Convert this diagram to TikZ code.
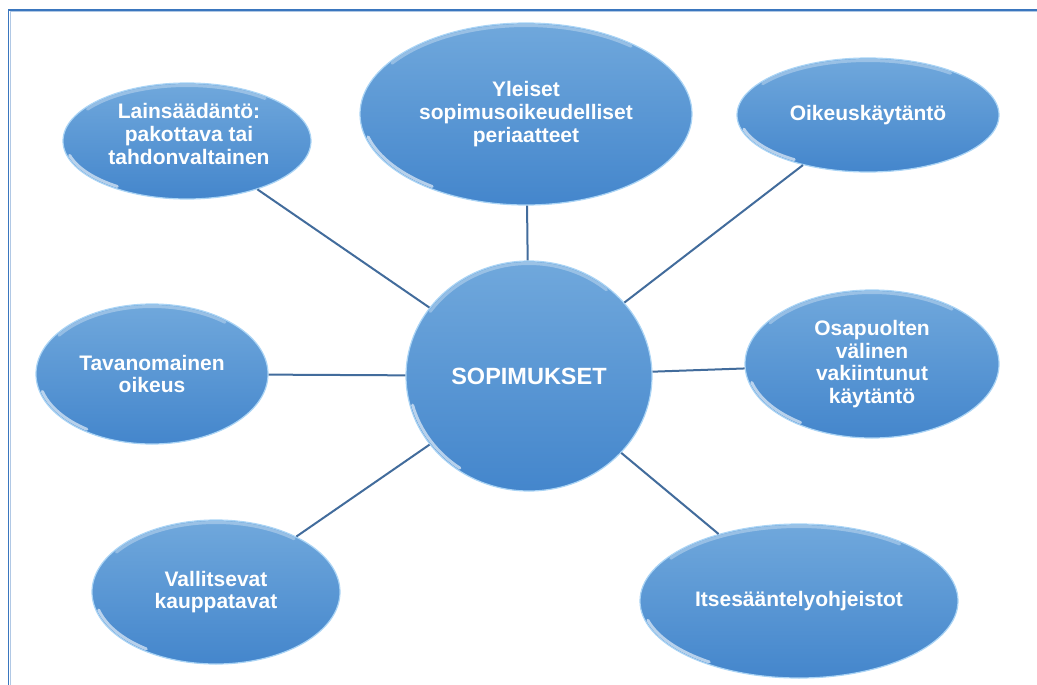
\documentclass[tikz,border=0pt]{standalone}
\usepackage{fontspec}
\setmainfont{Liberation Sans}
\usetikzlibrary{shapes.geometric}
\definecolor{bubtop}{RGB}{112,168,220}
\definecolor{bubbot}{RGB}{68,134,204}
\definecolor{bubrim}{RGB}{170,212,245}
\definecolor{linkc}{RGB}{66,108,156}
\definecolor{framec}{RGB}{58,118,190}
\tikzset{
  bubtext/.style={text=white, align=center, font=\bfseries\fontsize{21}{22.8}\selectfont},
  bubble/.style 2 args={ellipse, inner sep=0pt, top color=bubtop, bottom color=bubbot,
    draw=bubrim, line width=1.2pt, bubtext,
    minimum width=2*#1, minimum height=2*#2,
    path picture={
      \draw[white, opacity=0.6, line width=3pt, line cap=round]
        ([shift={(195:#1-2.5pt and #2-2.5pt)}]path picture bounding box.center)
        arc[start angle=195, end angle=235, x radius=#1-2.5pt, y radius=#2-2.5pt];
      \draw[white, opacity=0.3, line width=3pt, line cap=round]
        ([shift={(50:#1-2.5pt and #2-2.5pt)}]path picture bounding box.center)
        arc[start angle=50, end angle=145, x radius=#1-2.5pt, y radius=#2-2.5pt];
    }},
  link/.style={draw=linkc, line width=2pt}
}
\begin{document}
\begin{tikzpicture}[x=1pt,y=-1pt]
\useasboundingbox (0,0) rectangle (1037,685);
\fill[white] (0,0) rectangle (1037,685);
\draw[framec, line width=1.6pt] (8.5,690) -- (8.5,9.8) -- (1042,9.8);
\draw[framec!40, line width=0.8pt] (10.4,690) -- (10.4,11.6) -- (1042,11.6);

\node[bubble={123pt}{115pt}, font=\bfseries\fontsize{23.5}{26}\selectfont] (c) at (529,376) {SOPIMUKSET};
\node[bubble={124pt}{58pt}] (lain) at (187,141) {};
\node[bubtext] (lainT) at (189,134) {Lainsäädäntö:\\pakottava tai\\tahdonvaltainen};
\node[bubble={166pt}{91pt}] (yle) at (526,114) {Yleiset\\sopimusoikeudelliset\\periaatteet};
\node[bubble={131pt}{57pt}] (oik) at (868,115) {Oikeuskäytäntö};
\node[bubble={116pt}{70pt}] (tav) at (152,374) {Tavanomainen\\oikeus};
\node[bubble={127pt}{74pt}] (osa) at (872,364) {Osapuolten\\välinen\\vakiintunut\\käytäntö};
\node[bubble={124pt}{72pt}] (val) at (216,592) {Vallitsevat\\kauppatavat};
\node[bubble={159pt}{77pt}] (its) at (799,601) {Itsesääntelyohjeistot};

\draw[link] (c) -- (lain);
\draw[link] (c) -- (yle);
\draw[link] (c) -- (oik);
\draw[link] (c) -- (tav);
\draw[link] (c) -- (osa);
\draw[link] (c) -- (val);
\draw[link] (c) -- (its);
\end{tikzpicture}
\end{document}
